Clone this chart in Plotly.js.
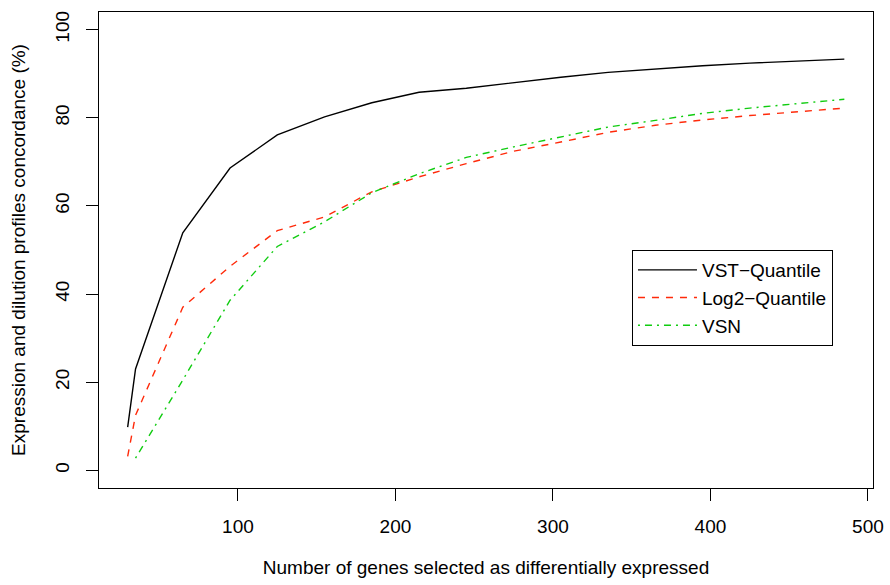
<!DOCTYPE html>
<html>
<head>
<meta charset="utf-8">
<script src="https://cdn.plot.ly/plotly-3.0.1.min.js"></script>
<style>html,body{margin:0;padding:0;background:#fff;}#chart{width:890px;height:585px;}</style>
</head>
<body>
<div id="chart"></div>
<script>
var xVst = [30, 35, 65, 95, 125, 155, 185, 215, 245, 275, 305, 335, 365, 395, 425, 455, 485];
var vstQuantile = [9.8, 23.0, 53.9, 68.6, 76.1, 80.2, 83.4, 85.8, 86.7, 88.0, 89.2, 90.3, 91.1, 91.8, 92.4, 92.9, 93.3];
var xLog2 = [30, 35, 65, 95, 125, 155, 185, 215, 245, 275, 305, 335, 365, 395, 425, 455, 485];
var log2Quantile = [3.2, 12.5, 37.0, 46.3, 54.4, 57.5, 63.2, 66.6, 69.6, 72.4, 74.5, 76.7, 78.3, 79.5, 80.5, 81.4, 82.2];
var xVsn = [35, 65, 95, 125, 155, 185, 215, 245, 275, 305, 335, 365, 395, 425, 455, 485];
var vsn = [2.8, 20.5, 38.6, 50.8, 56.4, 63.0, 67.3, 71.0, 73.4, 75.7, 77.9, 79.4, 81.0, 82.2, 83.2, 84.2];
var seriesNames = ["VST\u2212Quantile", "Log2\u2212Quantile", "VSN"];
var xTicks = [100, 200, 300, 400, 500];
var yTicks = [0, 20, 40, 60, 80, 100];

var font = "Liberation Sans, Arial, Helvetica, sans-serif";
var fs = 19;
var traces = [
  {x: xVst, y: vstQuantile, name: seriesNames[0], type: "scatter", mode: "lines",
   line: {color: "#000000", width: 1.4}},
  {x: xLog2, y: log2Quantile, name: seriesNames[1], type: "scatter", mode: "lines",
   line: {color: "#ff2a0a", width: 1.4, dash: "7px,7px"}},
  {x: xVsn, y: vsn, name: seriesNames[2], type: "scatter", mode: "lines",
   line: {color: "#10cc10", width: 1.4, dash: "2px,5px,7px,5px"}}
];
var layout = {
  width: 890, height: 585,
  margin: {l: 99, r: 17, t: 12, b: 97},
  paper_bgcolor: "#ffffff", plot_bgcolor: "#ffffff",
  font: {family: font, size: fs, color: "#000000"},
  showlegend: true,
  legend: {x: 0.6886, y: 0.5, xanchor: "left", yanchor: "top",
    bordercolor: "#000000", borderwidth: 1, bgcolor: "#ffffff",
    itemwidth: 59,
    font: {family: font, size: fs, color: "#000000"}, tracegroupgap: 0},
  xaxis: {
    range: [11.8, 503.2], tickvals: xTicks, ticktext: xTicks.map(String),
    ticks: "outside", ticklen: 12, tickwidth: 1, tickcolor: "#000000",
    showline: true, mirror: true, linecolor: "#000000", linewidth: 1,
    showgrid: false, zeroline: false, ticklabelstandoff: 9,
    tickfont: {family: font, size: fs},
    title: {text: "Number of genes selected as differentially expressed", font: {family: font, size: fs}, standoff: 24}
  },
  yaxis: {
    range: [-4, 104], tickvals: yTicks, ticktext: yTicks.map(String),
    ticks: "outside", ticklen: 12, tickwidth: 1, tickcolor: "#000000",
    showline: true, mirror: true, linecolor: "#000000", linewidth: 1,
    showgrid: false, zeroline: false, tickangle: -90, ticklabelstandoff: 9,
    tickfont: {family: font, size: fs},
    title: {text: "Expression and dilution profiles concordance (%)", font: {family: font, size: fs}, standoff: 21}
  }
};
Plotly.newPlot("chart", traces, layout, {displayModeBar: false, staticPlot: true});
</script>
</body>
</html>
